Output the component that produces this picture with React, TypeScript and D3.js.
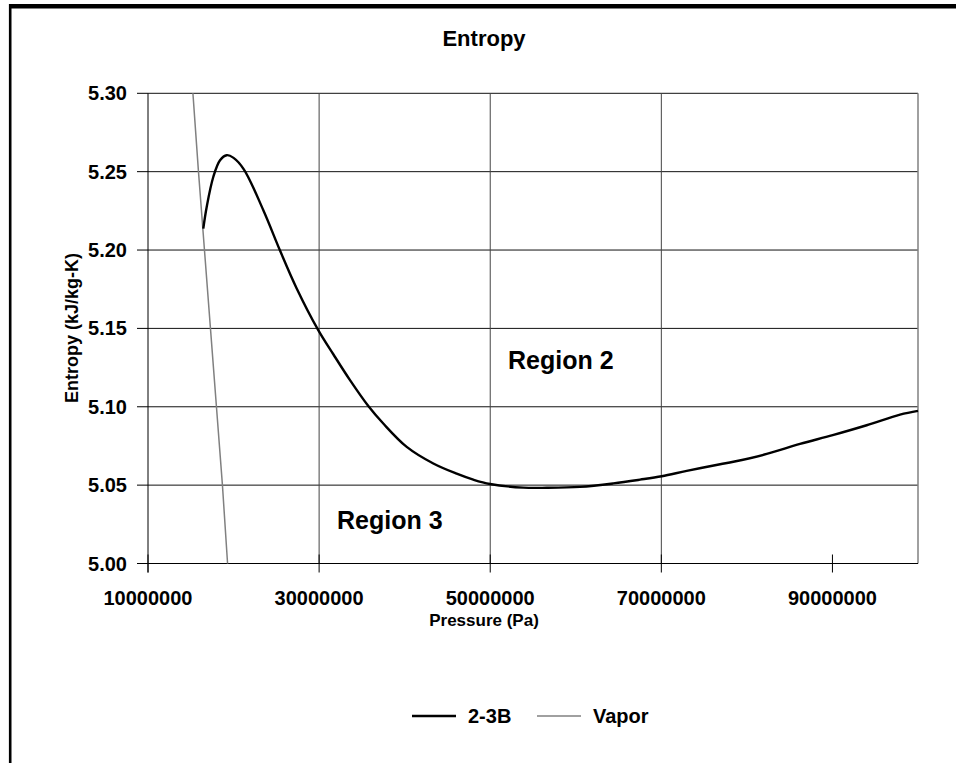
import React from "react";
import * as d3 from "d3";

const title = "Entropy";
const xTitle = "Pressure (Pa)";
const yTitle = "Entropy (kJ/kg-K)";
const xTicks = [10000000, 30000000, 50000000, 70000000, 90000000];
const xGrid = [30000000, 50000000, 70000000];
const yTicks = [5.0, 5.05, 5.1, 5.15, 5.2, 5.25, 5.3];

const p23B = [
  16.46, 16.86, 17.63, 18.42, 19.2, 20.0, 21.2, 23.48, 25.43, 27.38, 29.9,
  31.66, 33.61, 35.75, 37.5, 40.24, 43.35, 46.08, 48.02, 49.98, 53.87, 56.6, 60.5,
  64.39, 67.51, 70.05, 72.97, 76.87, 78.42, 82.32, 86.21, 90.03, 94.0, 97.9, 100,
];
const s23B = [
  5.2137, 5.2275, 5.2466, 5.2573, 5.2605, 5.2588, 5.2515, 5.2254, 5.1997, 5.1755, 5.1489,
  5.1335, 5.117, 5.1005, 5.0893, 5.0744, 5.0638, 5.0573, 5.0535, 5.0507, 5.0484, 5.0483, 5.0489,
  5.0511, 5.0535, 5.0557, 5.0591, 5.0633, 5.0649, 5.0699, 5.0763, 5.0819, 5.0882, 5.095, 5.0974,
];

const pVapor = [15.25, 15.9, 16.6, 17.3, 18.0, 18.7, 19.3];
const sVapor = [5.3, 5.25, 5.2, 5.15, 5.1, 5.05, 5.0];

const regionLabels = ["Region 2", "Region 3"];
const regionP = [52.08, 32.09];
const regionS = [5.1238, 5.0219];

const legendNames = ["2-3B", "Vapor"];

const FONT = "'Liberation Sans', Arial, sans-serif";

export default function App() {
  const x = d3.scaleLinear().domain([10e6, 100e6]).range([148, 918]);
  const y = d3.scaleLinear().domain([5.0, 5.3]).range([563.5, 93.3]);
  const [x0, x1] = x.range();
  const [yb, yt] = y.range();

  const line = d3
    .line<[number, number]>()
    .x((d) => x(d[0] * 1e6))
    .y((d) => y(d[1]))
    .curve(d3.curveCatmullRom.alpha(0.5));

  const d23 = line(p23B.map((p, i) => [p, s23B[i]] as [number, number])) || "";
  const dVap =
    d3
      .line<[number, number]>()
      .x((d) => x(d[0] * 1e6))
      .y((d) => y(d[1]))(pVapor.map((p, i) => [p, sVapor[i]] as [number, number])) || "";

  return (
    <div style={{ position: "absolute", left: 0, top: 0 }}>
      <svg width={956} height={763} style={{ display: "block", background: "#fff" }}>
        <rect x={0} y={0} width={956} height={763} fill="#fff" />
        {/* outer frame */}
        <line x1={9} x2={956} y1={6.3} y2={6.3} stroke="#000" strokeWidth={4.6} />
        <line x1={10.2} x2={10.2} y1={4} y2={763} stroke="#000" strokeWidth={2.6} />

        <text x={484} y={46} textAnchor="middle" fontFamily={FONT} fontWeight="bold" fontSize={22}>
          {title}
        </text>

        {/* horizontal gridlines */}
        {yTicks.map((t) => (
          <line key={"hg" + t} x1={x0} x2={x1} y1={y(t)} y2={y(t)} stroke="#111" strokeWidth={1} />
        ))}
        {/* vertical gridlines */}
        {xGrid.map((t) => (
          <line key={"vg" + t} x1={x(t)} x2={x(t)} y1={yt} y2={yb} stroke="#444" strokeWidth={1} />
        ))}
        {/* plot border right */}
        <line x1={x1} x2={x1} y1={yt} y2={yb} stroke="#808080" strokeWidth={1.5} />
        {/* axes */}
        <line x1={x0} x2={x0} y1={yt} y2={yb + 9} stroke="#000" strokeWidth={1} />
        <line x1={x0} x2={x1} y1={yb} y2={yb} stroke="#000" strokeWidth={1} />
        {yTicks.map((t) => (
          <line key={"yt" + t} x1={x0 - 11} x2={x0} y1={y(t)} y2={y(t)} stroke="#000" strokeWidth={1} />
        ))}
        {xTicks.map((t) => (
          <line key={"xt" + t} x1={x(t)} x2={x(t)} y1={yb - 9} y2={yb + 9} stroke="#000" strokeWidth={1} />
        ))}

        {/* y tick labels */}
        {yTicks.map((t) => (
          <text
            key={"yl" + t}
            x={127}
            y={y(t)}
            dy="0.35em"
            textAnchor="end"
            fontFamily={FONT}
            fontWeight="bold"
            fontSize={20}
          >
            {d3.format(".2f")(t)}
          </text>
        ))}
        {/* x tick labels */}
        {xTicks.map((t) => (
          <text
            key={"xl" + t}
            x={x(t)}
            y={605}
            textAnchor="middle"
            fontFamily={FONT}
            fontWeight="bold"
            fontSize={20}
          >
            {String(t)}
          </text>
        ))}

        <text x={484} y={626} textAnchor="middle" fontFamily={FONT} fontWeight="bold" fontSize={17}>
          {xTitle}
        </text>
        <text
          transform={`translate(78,328) rotate(-90)`}
          textAnchor="middle"
          fontFamily={FONT}
          fontWeight="bold"
          fontSize={18}
        >
          {yTitle}
        </text>

        {/* series */}
        <path d={dVap} fill="none" stroke="#808080" strokeWidth={1.5} />
        <path d={d23} fill="none" stroke="#000" strokeWidth={2.4} strokeLinejoin="round" />

        {/* region labels */}
        {regionLabels.map((r, i) => (
          <text
            key={r}
            x={x(regionP[i] * 1e6)}
            y={y(regionS[i])}
            fontFamily={FONT}
            fontWeight="bold"
            fontSize={25}
          >
            {r}
          </text>
        ))}

        {/* legend */}
        <line x1={412} x2={456} y1={716} y2={716} stroke="#000" strokeWidth={2.4} />
        <text x={468} y={723} fontFamily={FONT} fontWeight="bold" fontSize={20}>
          {legendNames[0]}
        </text>
        <line x1={537} x2={581} y1={716} y2={716} stroke="#808080" strokeWidth={1.5} />
        <text x={593} y={723} fontFamily={FONT} fontWeight="bold" fontSize={20}>
          {legendNames[1]}
        </text>
      </svg>
    </div>
  );
}
